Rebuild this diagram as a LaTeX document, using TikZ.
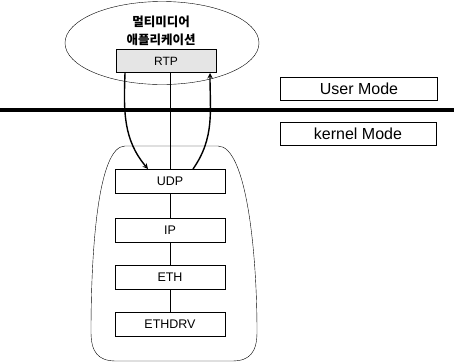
\documentclass[tikz,border=0pt]{standalone}
\usepackage{fontspec}
\setmainfont{Liberation Sans}
\newfontfamily\kofont{Noto Sans CJK KR}
\usetikzlibrary{arrows,shapes.geometric}
\tikzset{
  layer/.style={draw, thin, minimum width=110pt, minimum height=24pt, inner sep=0pt, font=\fontsize{12.5}{14}\selectfont},
  modebox/.style={draw, thin, minimum width=157pt, minimum height=23pt, inner sep=0pt, font=\fontsize{16}{18}\selectfont},
}
\begin{document}
\begin{tikzpicture}[>=stealth, x=1pt, y=-1pt]
\useasboundingbox (0,0) rectangle (454,362);

% user space
\node(APP)[draw, ellipse, minimum width=194pt, minimum height=83pt] at (162,43){};
\node(TXT)[align=center, inner sep=0pt, font=\kofont\bfseries\fontsize{12.5}{18}\selectfont] at (161,31){멀티미디어\\애플리케이션};
\node(RTP)[layer, fill=gray!20, minimum width=100pt, minimum height=23pt, font=\fontsize{12}{14}\selectfont] at (166,61){RTP};

% mode boundary
\coordinate(L0) at (0,110);
\coordinate(L1) at (454,110);
\draw[line width=4.5pt](L0) -- (L1);
\node(USR)[modebox] at (359,88.5){User Mode};
\node(KRN)[modebox, minimum width=156pt] at (358,134){kernel Mode};

% kernel stack
\draw[thin](125,146) -- (218,146)
  .. controls (246,146) and (257,250) .. (257,332)
  .. controls (257,352) and (250,361) .. (232,361) -- (116,361)
  .. controls (98,361) and (91,352) .. (91,332)
  .. controls (91,250) and (98,146) .. (125,146) -- cycle;
\node(UDP)[layer] at (170,181){UDP};
\node(IP)[layer] at (170,230){IP};
\node(ETH)[layer] at (170,277){ETH};
\node(DRV)[layer] at (170,324.5){ETHDRV};

\draw(UDP) -- (IP);
\draw(IP) -- (ETH);
\draw(ETH) -- (DRV);

% socket calls
\coordinate(S1) at (125,73);
\coordinate(S2) at (170,73);
\coordinate(S3) at (210,73);
\coordinate(D1) at (148,169);
\coordinate(D2) at (170,169);
\coordinate(D3) at (193,169);
\draw[->, line width=1.4pt](S1) to [out=-92, in=130](D1);
\draw[line width=1pt](S2) -- (D2);
\draw[->, line width=1.4pt](D3) to [out=55, in=-90](S3);
\end{tikzpicture}
\end{document}
